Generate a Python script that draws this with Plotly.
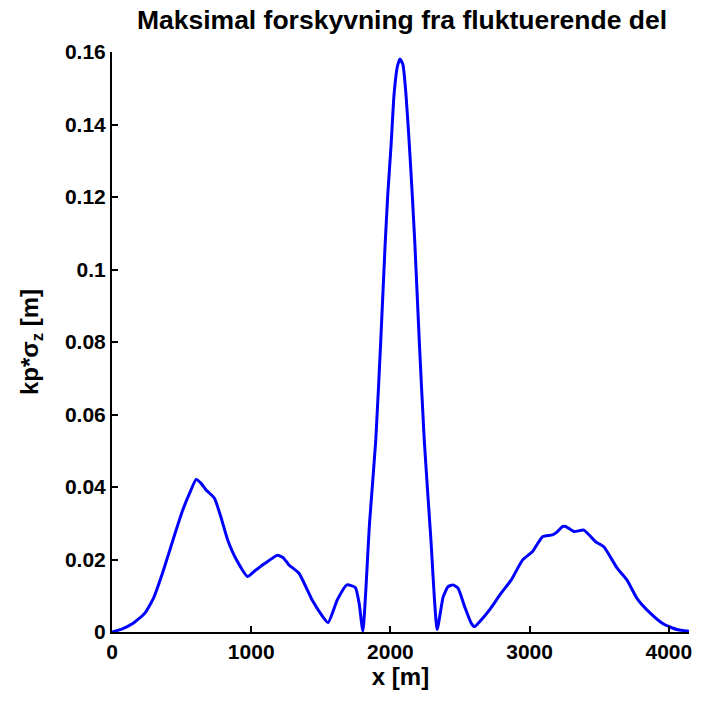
import plotly.graph_objects as go

# Position along the span [m]
x_m = [0, 70, 152, 236, 300, 366, 438, 509, 560, 605, 640, 676, 736, 780, 831, 900,
       974, 1030, 1081, 1116, 1188, 1230, 1271, 1343, 1438, 1500, 1552, 1620, 1688,
       1748, 1775, 1802, 1850, 1895, 1931, 1962, 1981, 2005, 2026, 2050, 2069, 2090,
       2112, 2136, 2157, 2176, 2207, 2243, 2290, 2336, 2379, 2414, 2450, 2486, 2533,
       2581, 2605, 2652, 2712, 2795, 2867, 2950, 3021, 3093, 3164, 3200, 3236, 3259,
       3319, 3390, 3474, 3533, 3629, 3700, 3771, 3867, 3962, 4057, 4148]

# Maximum displacement from the fluctuating part [m]
kp_sigma_z = [0.0, 0.0008, 0.0024, 0.0052, 0.0095, 0.0166, 0.0254, 0.0337, 0.0385,
              0.0421, 0.0410, 0.0392, 0.0369, 0.0320, 0.0254, 0.0195,
              0.0153, 0.0170, 0.0185, 0.0194, 0.0212, 0.0205, 0.0185, 0.0162, 0.0088,
              0.0050, 0.0026, 0.0090, 0.0130,
              0.0123, 0.0080, 0.0003, 0.0300, 0.0530, 0.0806, 0.1068, 0.1206, 0.1344,
              0.1482, 0.1560, 0.1581, 0.1565,
              0.1482, 0.1344, 0.1206, 0.1068, 0.0806, 0.0530, 0.0260, 0.0007, 0.0097,
              0.0125, 0.0130, 0.0121, 0.0070,
              0.0024, 0.0015, 0.0033, 0.0061, 0.0107, 0.0143, 0.0199, 0.0222, 0.0263,
              0.0268, 0.0277, 0.0291, 0.0291,
              0.0277, 0.0281, 0.0249, 0.0235, 0.0176, 0.0143, 0.0093, 0.0052, 0.0022,
              0.0007, 0.0002]

x_ticks = [0, 1000, 2000, 3000, 4000]
y_ticks = [0, 0.02, 0.04, 0.06, 0.08, 0.1, 0.12, 0.14, 0.16]
y_tick_text = ["0", "0.02", "0.04", "0.06", "0.08", "0.1", "0.12", "0.14", "0.16"]

font_family = "Liberation Sans, Arial, sans-serif"

fig = go.Figure(
    go.Scatter(
        x=x_m,
        y=kp_sigma_z,
        mode="lines",
        line=dict(color="#0000ff", width=3, shape="spline", smoothing=0.5),
        hoverinfo="skip",
    )
)

axis_common = dict(
    showline=True,
    linecolor="black",
    linewidth=2,
    ticks="inside",
    ticklen=6,
    tickwidth=2,
    tickcolor="black",
    showgrid=False,
    zeroline=False,
    mirror=False,
    tickfont=dict(family=font_family, size=21, color="black", weight="bold"),
)

fig.update_layout(
    width=702,
    height=704,
    margin=dict(l=112, r=10, t=52, b=72),
    paper_bgcolor="white",
    plot_bgcolor="white",
    showlegend=False,
    title=dict(
        text="<b>Maksimal forskyvning fra fluktuerende del</b>",
        x=(112 + 692) / 2 / 702,
        xanchor="center",
        y=1 - 20 / 704,
        yanchor="middle",
        font=dict(family=font_family, size=26.5, color="black"),
    ),
    xaxis=dict(
        range=[0, 4145],
        tickvals=x_ticks,
        ticktext=[str(v) for v in x_ticks],
        title=dict(text="<b>x [m]</b>", font=dict(family=font_family, size=24, color="black"), standoff=6),
        **axis_common,
    ),
    yaxis=dict(
        range=[0, 0.16],
        tickvals=y_ticks,
        ticktext=y_tick_text,
        title=dict(text="<b>kp*σ<sub>z</sub> [m]</b>", font=dict(family=font_family, size=24, color="black"), standoff=20),
        **axis_common,
    ),
)

fig.write_html("out.html")
